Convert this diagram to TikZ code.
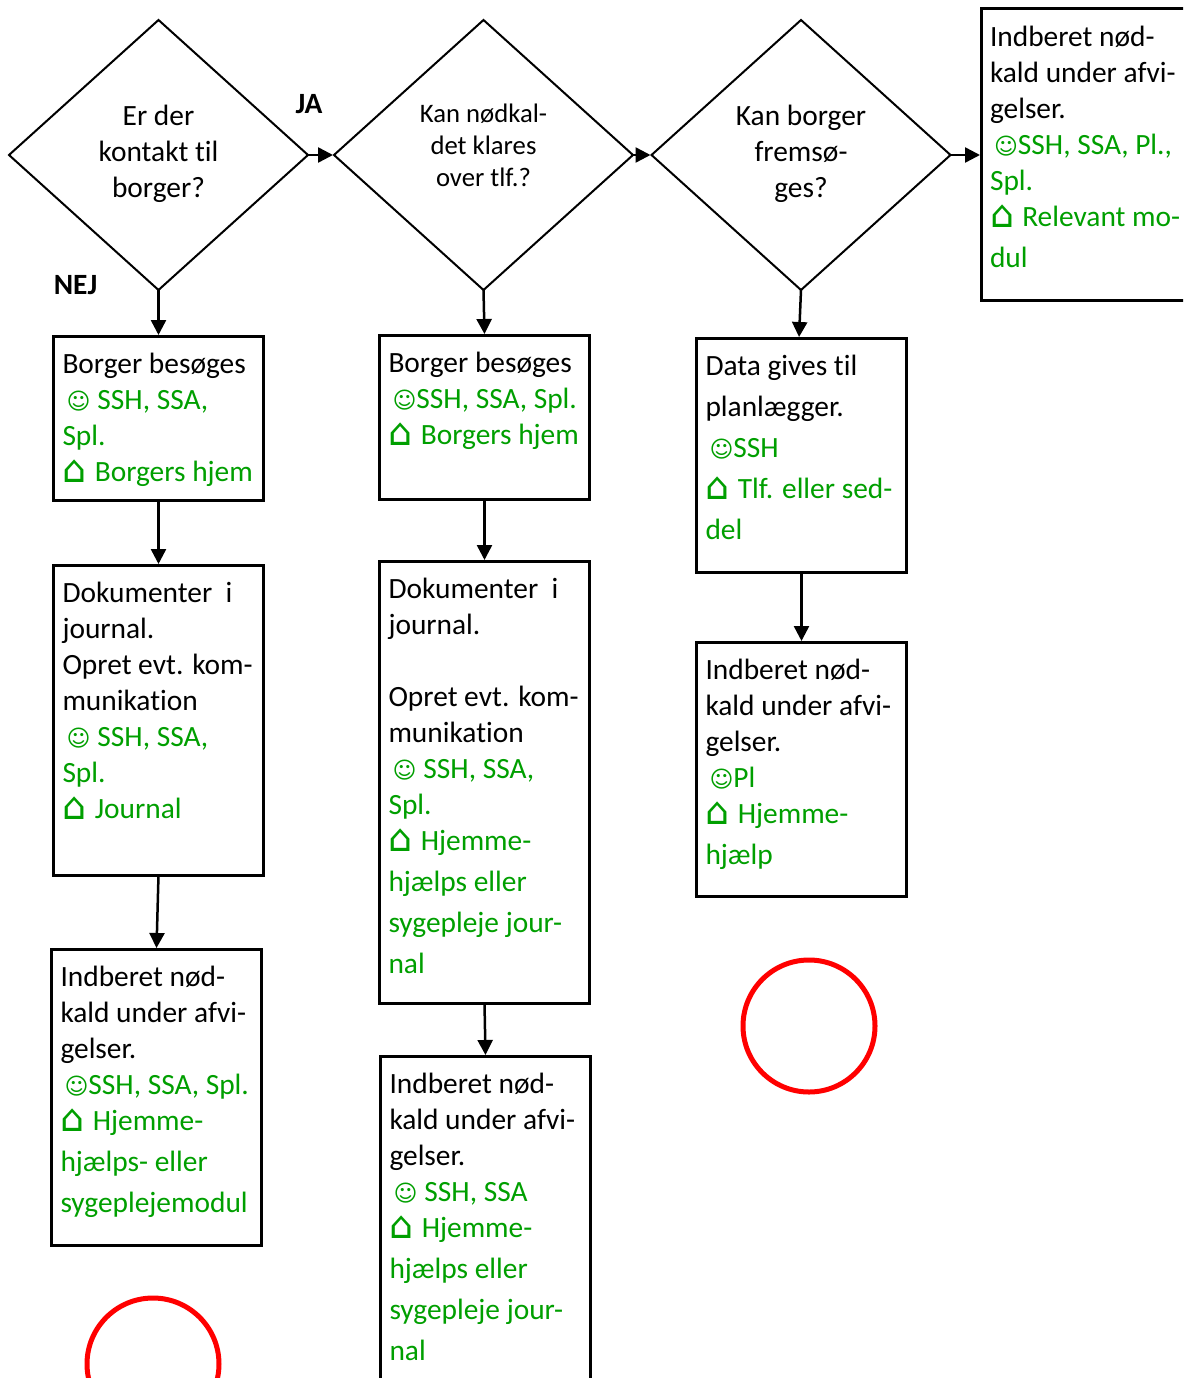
\documentclass[tikz,border=0pt]{standalone}
\usepackage{fontspec}
\setmainfont[Ligatures=NoCommon]{Carlito}
\newfontfamily\symfont{DejaVu Sans}
\usetikzlibrary{shapes.geometric,arrows.meta}
\definecolor{grn}{HTML}{009F00}
\newcommand{\smi}{{\symfont\fontsize{23}{36}\selectfont ☺}}
\newcommand{\hus}{\hspace{0pt}\raisebox{-1pt}{\symfont\fontsize{38}{36}\selectfont ⌂}\hspace{1.5pt}}
\newcommand{\bxt}[3]{\parbox[t][\numexpr#2-1\relax pt][t]{#1pt}{\raggedright\rightskip=-25pt plus 1fil\rule{0pt}{37.6pt}#3}}
\newcommand{\gr}{\color{grn}}
\newcommand{\qtxt}[2]{\raisebox{#1pt}[0pt][0pt]{\parbox[c]{140pt}{\centering #2}}}
\tikzset{
  x=1pt,y=-1pt,
  every node/.style={font=\fontsize{29.4}{36}\selectfont},
  flowbox/.style={draw=black,line width=3pt,fill=white,inner ysep=0pt,inner xsep=9pt,anchor=north west,outer sep=0pt},
  choice/.style={diamond,draw=black,line width=2pt,aspect=1.1,inner sep=0pt,outer sep=0pt,minimum width=299pt,minimum height=270pt,align=center},
  conn/.style={draw=black,line width=2.5pt,-{Triangle[length=15pt,width=15pt]},shorten >=1pt},
  lbl/.style={font=\fontsize{29.4}{30}\selectfont\bfseries,inner sep=0pt},
  stopc/.style={circle,draw=red,line width=5pt,minimum size=132pt,inner sep=0pt}
}
\begin{document}
\begin{tikzpicture}
\useasboundingbox (0,0) rectangle (1183,1378);
\clip (0,0) rectangle (1183,1378);
\node[choice] (q1) at (158.5,155) {\qtxt{-5}{Er der\\kontakt til\\borger?}};
\node[choice,font=\fontsize{26.7}{32}\selectfont] (q2) at (483.5,155) {\qtxt{3.5}{Kan nødkal-\\det klares\\over tlf.?}};
\node[choice] (q3) at (801,155) {\qtxt{-5}{Kan borger\\fremsø-\\ges?}};

\node[flowbox] (a1) at (53.5,336) {\bxt{192}{165}{Borger besøges\\\gr\hspace{4pt}\smi\hspace{7pt}SSH, SSA,\\Spl.\\\hus\ Borgers hjem}};
\node[flowbox] (a2) at (53.5,565) {\bxt{192}{311}{Dokumenter\ \ i\\journal.\\Opret evt. kom-\\munikation\\\gr\hspace{4pt}\smi\hspace{7pt}SSH, SSA,\\Spl.\\\hus\ Journal}};
\node[flowbox] (a3) at (51.5,949) {\bxt{192}{297}{Indberet nød-\\kald under afvi-\\gelser.\\\gr\hspace{4pt}\smi SSH, SSA, Spl.\\\hus\ Hjemme-\\[5pt]hjælps- eller\\[5pt]sygeplejemodul}};

\node[flowbox] (b1) at (379.5,335) {\bxt{192}{165}{Borger besøges\\\gr\hspace{4pt}\smi SSH, SSA, Spl.\\\hus\ Borgers hjem}};
\node[flowbox] (b2) at (379.5,561) {\bxt{192}{443}{Dokumenter\ \ i\\journal.\\\mbox{}\\Opret evt. kom-\\munikation\\\gr\hspace{4pt}\smi\hspace{7pt}SSH, SSA,\\Spl.\\\hus\ Hjemme-\\[5pt]hjælps eller\\[5pt]sygepleje jour-\\[5pt]nal}};
\node[flowbox] (b3) at (380.5,1056) {\bxt{192}{340}{Indberet nød-\\kald under afvi-\\gelser.\\\gr\hspace{4pt}\smi\hspace{7pt}SSH, SSA\\\hus\ Hjemme-\\[5pt]hjælps eller\\[5pt]sygepleje jour-\\[5pt]nal}};

\node[flowbox] (c1) at (696.5,338) {\bxt{192}{235}{Data gives til\\[5pt]planlægger.\\[5pt]\gr\hspace{4pt}\smi SSH\\[5pt]\hus\ Tlf. eller sed-\\[5pt]del}};
\node[flowbox] (c2) at (696.5,642) {\bxt{192}{255}{Indberet nød-\\kald under afvi-\\gelser.\\\gr\hspace{4pt}\smi Pl\\\hus\ Hjemme-\\[5pt]hjælp}};

\node[flowbox] (d1) at (981,8.5) {\bxt{192}{293}{Indberet nød-\\kald under afvi-\\gelser.\\\gr\hspace{4pt}\smi SSH, SSA, Pl.,\\Spl.\\\hus\ Relevant mo-\\[5pt]dul}};

\node[stopc] (s1) at (809,1026) {};
\node[stopc] (s2) at (153,1364) {};

\node[lbl] (ja) at (309,104) {JA};
\node[lbl] (nej) at (75.5,285) {NEJ};

\draw[conn] (q1.east) -- (q2.west);
\draw[conn] (q2.east) -- (q3.west);
\draw[conn] (q3.east) -- (d1.west |- q3.east);
\draw[conn] (q1.south) -- (a1.north);
\draw[conn] (a1.south) -- (a2.north);
\draw[conn] (a2.south) -- (a3.north);
\draw[conn] (q2.south) -- (b1.north);
\draw[conn] (b1.south) -- (b2.north);
\draw[conn] (b2.south) -- (b3.north);
\draw[conn] (q3.south) -- ([xshift=-2.5pt]c1.north);
\draw[conn] (c1.south) -- (c2.north);
\end{tikzpicture}
\end{document}
